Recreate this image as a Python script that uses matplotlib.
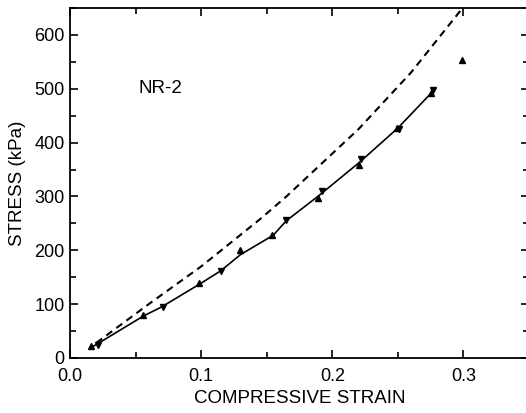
import matplotlib
matplotlib.use("Agg")
import matplotlib.pyplot as plt
from matplotlib.ticker import MultipleLocator

plt.rcParams["font.family"] = ["Liberation Sans", "DejaVu Sans"]

up_strain = [0.016, 0.056, 0.098, 0.130, 0.154, 0.189, 0.220, 0.249, 0.275, 0.299]
up_stress = [22, 80, 140, 200, 228, 297, 358, 428, 493, 554]
down_strain = [0.021, 0.071, 0.115, 0.165, 0.192, 0.222, 0.251, 0.277]
down_stress = [25, 94, 161, 256, 310, 370, 425, 497]

# solid curve through the data
fit_strain = [0.018, 0.056, 0.070, 0.100, 0.115, 0.130, 0.155, 0.165, 0.190, 0.221, 0.250, 0.277]
fit_stress = [22, 78, 95, 139, 162, 192, 228, 255, 302, 364, 427, 496]

# dashed curve (model)
model_strain = [0.020, 0.060, 0.100, 0.145, 0.165, 0.220, 0.260, 0.300]
model_stress = [28, 100, 170, 258, 300, 425, 530, 652]

fig = plt.figure(figsize=(5.26, 4.13), dpi=100)
ax = fig.add_axes([70 / 526, 55 / 413, 459 / 526, 350 / 413])

ax.plot(model_strain, model_stress, color="black", linestyle=(0, (3.5, 2.5)), linewidth=1.5)
ax.plot(fit_strain, fit_stress, color="black", linewidth=1.2)
ax.plot(up_strain, up_stress, linestyle="none", marker="^", markersize=5, color="black")
ax.plot(down_strain, down_stress, linestyle="none", marker="v", markersize=5, color="black")

ax.text(0.052, 500, "NR-2", fontsize=13.5, va="center", ha="left")

ax.set_xlim(0, 0.35)
ax.set_ylim(0, 650)
ax.xaxis.set_major_locator(MultipleLocator(0.1))
ax.xaxis.set_minor_locator(MultipleLocator(0.05))
ax.yaxis.set_major_locator(MultipleLocator(100))
ax.yaxis.set_minor_locator(MultipleLocator(50))
ax.xaxis.set_major_formatter(plt.FuncFormatter(lambda v, p: f"{v:.1f}"))

ax.tick_params(which="both", direction="in", top=True, right=True, labelsize=13, width=1.2)
ax.tick_params(which="major", length=6)
ax.tick_params(which="minor", length=4)
ax.tick_params(axis="x", which="major", pad=7)
ax.tick_params(axis="y", which="major", pad=4)
for s in ax.spines.values():
    s.set_linewidth(1.3)

ax.set_xlabel("COMPRESSIVE STRAIN", fontsize=13.5, labelpad=4)
ax.set_ylabel("STRESS (kPa)", fontsize=13.5, labelpad=6)

fig.savefig("out.png", dpi=100)
